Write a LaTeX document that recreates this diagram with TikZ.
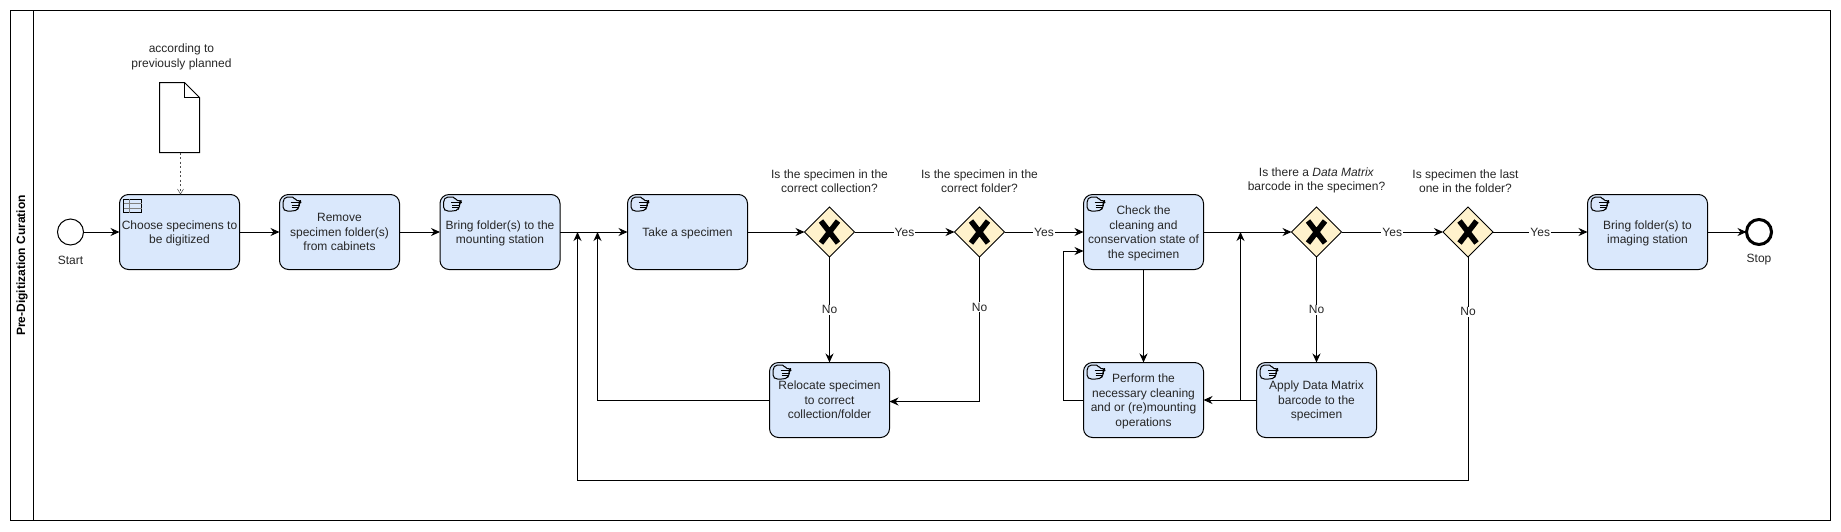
\documentclass[tikz,border=0pt]{standalone}
\usepackage{fontspec}
\setmainfont{Liberation Sans}
\usepackage{tikz}
\usetikzlibrary{positioning}
\usetikzlibrary{arrows.meta}
\usetikzlibrary{shapes.geometric}
\tikzset{
	base font/.style={font=\fontsize{12}{14.5}\selectfont,text=black!85,align=center,inner sep=0pt,outer sep=0pt},
	task/.style={base font,draw,fill={rgb,255:red,218;green,232;blue,252},rounded corners=9pt,minimum width=120pt,minimum height=75pt,text depth=-1.5pt},
	gateway/.style={diamond,draw,fill={rgb,255:red,255;green,242;blue,204},minimum size=50pt,inner sep=0pt,outer sep=0pt,
		path picture={\draw[line width=5.5pt] (path picture bounding box.center) ++(-8.5,-11) -- ++(17,22) ++(0,-22) -- ++(-17,22);}},
	event/.style={circle,draw,fill=white,minimum size=26pt,inner sep=0pt,outer sep=0pt},
	note/.style={base font},
	flow label/.style={base font,fill=white,inner xsep=1pt,inner ysep=1pt},
	pics/hand icon/.style={code={
		\draw[rounded corners=2pt,line join=round] (3.5,6) -- (6,2.5) -- (15,2.5) -- (15.5,6) -- (21,6) -- (21,8) -- (19.5,8) -- (20,10.5) -- (19,13) -- (18,15.5) -- (14,16.5) -- (6,16.5) -- (3.5,14.5) -- cycle;
		\draw (11,8) -- (19.5,8);
		\draw (12,10.5) -- (20,10.5);
		\draw (12,13) -- (19,13);
	}},
	pics/table icon/.style={code={
		\draw (4,4.5) rectangle (22,18);
		\draw[gray] (4,9) -- (22,9);
		\draw[gray] (4,13.5) -- (22,13.5);
		\draw[gray] (9.5,4.5) -- (9.5,18);
	}},
}

\begin{document}
\begin{tikzpicture}[x=1pt,y=-1pt,line width=1pt,>={Stealth[length=9pt,width=8pt]}]
	\useasboundingbox (0,0) rectangle (1841,531);
	\node[draw,minimum width=1820pt,minimum height=510pt,outer sep=0pt] (pool) at (920.5,265.5) {};
	\node[draw,rotate=90,minimum width=510pt,minimum height=23pt,outer sep=0pt,inner sep=0pt,font=\fontsize{12}{14.5}\selectfont\bfseries] (lanehead) at (22,265.5) {Pre-Digitization Curation};

	\node[event] (start) at (70.5,232) {};
	\node[task] (choose) [right = 36pt of start] {Choose specimens to\\be digitized};
	\node[task] (remove) [right = 40pt of choose] {Remove\\specimen folder(s)\\from cabinets};
	\node[task] (bring) [right = 40.5pt of remove] {Bring folder(s) to the\\mounting station};
	\node[task] (take) [right = 67.5pt of bring] {Take a specimen};
	\node[gateway] (gwcoll) [right = 57pt of take] {};
	\node[gateway] (gwfold) [right = 100pt of gwcoll] {};
	\node[task] (check) [right = 79pt of gwfold] {Check the\\cleaning and\\conservation state of\\the specimen};
	\node[gateway] (gwcode) [right = 88pt of check] {};
	\node[gateway] (gwlast) [right = 101.5pt of gwcode] {};
	\node[task] (imaging) [right = 94.5pt of gwlast] {Bring folder(s) to\\imaging station};
	\node[event,line width=3pt,minimum size=25pt] (stop) [right = 39pt of imaging] {};

	\node[task] (relocate) [below = 105.5pt of gwcoll] {Relocate specimen\\to correct\\collection/folder};
	\node[task] (perform) [below = 93pt of check] {Perform the\\necessary cleaning\\and or (re)mounting\\operations};
	\node[task] (apply) [below = 105.5pt of gwcode] {Apply Data Matrix\\barcode to the\\specimen};

	\pic at (choose.north west) {table icon};
	\foreach \t in {remove,bring,take,check,imaging,relocate,perform,apply}
		\pic at (\t.north west) {hand icon};

	\node[note] (startlabel) [below = 11pt of start] {Start};
	\node[note] (stoplabel) [below = 10pt of stop] {Stop};
	\node[note] (qcoll) [above = 14pt of gwcoll] {Is the specimen in the\\correct collection?};
	\node[note] (qfold) [above = 14pt of gwfold] {Is the specimen in the\\correct folder?};
	\node[note] (qcode) [above = 14pt of gwcode] {Is there a \textit{Data Matrix}\\barcode in the specimen?};
	\node[note] (qlast) [above = 14pt of gwlast, xshift=-2.5pt] {Is specimen the last\\one in the folder?};

	\node[minimum width=40pt,minimum height=70pt,outer sep=0pt] (doc) [above = 42pt of choose] {};
	\draw[fill=white] (doc.north west) -- ++(25,0) -- ++(15,15) -- (doc.south east) -- (doc.south west) -- cycle;
	\draw (doc.north west) ++(25,0) -- ++(0,15) -- ++(15,0);
	\node[note] (docnote) [above = 13pt of doc, xshift=2pt] {according to\\previously planned};

	% where the loops join the main line
	\coordinate (joinlast) at (577.5,232);
	\coordinate (joinreloc) at (597.5,232);
	\coordinate (joincheck) at (1240.5,232);
	\coordinate (loopcorner) at (577.5,480);
	\coordinate (backcorner) at (1063.5,251);

	\path[draw,->]
	(start) edge (choose)
	(choose) edge (remove)
	(remove) edge (bring)
	(bring) edge (take)
	(take) edge (gwcoll)
	(gwcoll) edge node[flow label] {Yes} (gwfold)
	(gwfold) edge node[flow label] {Yes} (check)
	(check) edge (gwcode)
	(gwcode) edge node[flow label] {Yes} (gwlast)
	(gwlast) edge node[flow label] {Yes} (imaging)
	(imaging) edge (stop)
	(gwcoll) edge node[flow label] {No} (relocate)
	(gwcode) edge node[flow label] {No} (apply)
	(check) edge (perform)
	(apply) edge (perform);

	\draw[->] (gwfold.south) |- node[flow label,pos=.173] {No} ([yshift=-1.5pt]relocate.east);
	\draw[->] (gwlast.south) |- node[flow label,pos=.123] {No} (loopcorner) -- (joinlast);
	\draw[->] (relocate.west) -| (joinreloc);
	\draw[->] (perform.west) -| (backcorner) -- (check.west |- backcorner);
	\draw[->] (apply.west) -| (joincheck);
	\draw[->,>={Straight Barb[length=5pt,width=6pt]},black!70,line width=.5pt,dash pattern=on 2pt off 2.5pt] ([xshift=1pt]doc.south) -- ([xshift=1pt]choose.north);
\end{tikzpicture}
\end{document}
